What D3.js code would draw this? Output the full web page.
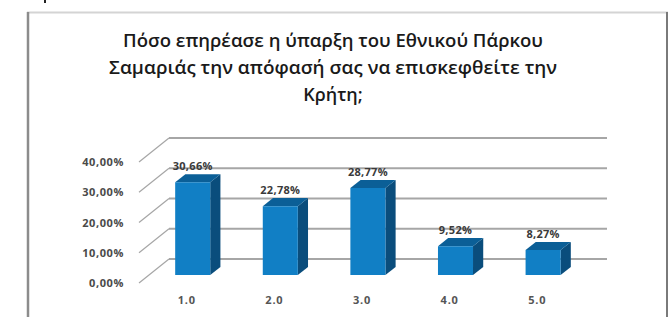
<!DOCTYPE html>
<html><head><meta charset="utf-8">
<script src="https://cdn.jsdelivr.net/npm/d3@7"></script>
<style>
html,body{margin:0;padding:0;background:#fff;}
svg{display:block;}
</style>
</head><body>
<svg id="chart" width="671" height="317"></svg>
<script>
const titleLines = ["Πόσο επηρέασε η ύπαρξη του Εθνικού Πάρκου", "Σαμαριάς την απόφασή σας να επισκεφθείτε την", "Κρήτη;"];
const categories = ["1.0", "2.0", "3.0", "4.0", "5.0"];
const values = [0.3066, 0.2278, 0.2877, 0.0952, 0.0827];
const valueLabels = ["30,66%", "22,78%", "28,77%", "9,52%", "8,27%"];
const yTicks = [0, 0.1, 0.2, 0.3, 0.4];
const yTickLabels = ["0,00%", "10,00%", "20,00%", "30,00%", "40,00%"];

const svg = d3.select("#chart");
const W = 671, H = 317;

// frame
svg.append("rect").attr("x", 0).attr("y", 0).attr("width", W).attr("height", H).attr("fill", "#fff");
svg.append("line").attr("x1", 27).attr("x2", 668).attr("y1", 12.5).attr("y2", 12.5).attr("stroke", "#d4d4d4").attr("stroke-width", 2);
svg.append("line").attr("x1", 28).attr("x2", 28).attr("y1", 12).attr("y2", H).attr("stroke", "#8c8c8c").attr("stroke-width", 2.5);
svg.append("line").attr("x1", 667).attr("x2", 667).attr("y1", 12).attr("y2", H).attr("stroke", "#7a7a7a").attr("stroke-width", 2);
svg.append("rect").attr("x", 44).attr("y", 0).attr("width", 2).attr("height", 3).attr("fill", "#222");

// title
const title = svg.append("g");
const titleY = [47, 74, 101];
const titleW = [420, 448, null];
titleLines.forEach((t, i) => {
  const tx = title.append("text")
    .attr("x", 333).attr("y", titleY[i])
    .attr("text-anchor", "middle")
    .attr("font-family", "'Open Sans', sans-serif")
    .attr("font-weight", 600)
    .attr("font-size", 18)
    .attr("fill", "#1a1a1a")
    .text(t);
  if (titleW[i]) tx.attr("textLength", titleW[i]).attr("lengthAdjust", "spacingAndGlyphs");
});

// scales (front plane)
const x = d3.scaleBand().domain(categories).range([139, 577]).paddingInner(0.6).paddingOuter(0.3);
const y = d3.scaleLinear().domain([0, 0.4]).range([283, 162]);
const depth = {dx: 30, dy: -24};
const z0 = 0.33, z1 = 0.67;
const px = (xv, z) => xv + depth.dx * z;
const py = (yv, z) => yv + depth.dy * z;

// gridlines: back wall + left diagonals
const grid = svg.append("g");
yTicks.forEach(t => {
  grid.append("line")
    .attr("x1", px(x.range()[0], 1)).attr("x2", px(x.range()[1], 1))
    .attr("y1", py(y(t), 1)).attr("y2", py(y(t), 1))
    .attr("stroke", "#a6a6a6").attr("stroke-width", 2);
  grid.append("line")
    .attr("x1", px(x.range()[0], 0)).attr("x2", px(x.range()[0], 1))
    .attr("y1", py(y(t), 0)).attr("y2", py(y(t), 1))
    .attr("stroke", "#a6a6a6").attr("stroke-width", 1.2);
});

// y axis labels
const yAxis = d3.axisLeft(y).tickValues(yTicks).tickSize(0).tickPadding(0)
  .tickFormat((d, i) => yTickLabels[i]);
const yg = svg.append("g").attr("transform", "translate(124,0)").call(yAxis);
yg.select(".domain").remove();
yg.selectAll("text")
  .attr("font-family", "'Open Sans', sans-serif")
  .attr("font-weight", 700)
  .attr("font-size", 11)
  .attr("letter-spacing", 0.6)
  .attr("fill", "#4a4a4a");

// x axis labels
const xAxis = d3.axisBottom(x).tickSize(0).tickPadding(0);
const xg = svg.append("g").attr("transform", "translate(4,296)").call(xAxis);
xg.select(".domain").remove();
xg.selectAll("text")
  .attr("font-family", "'Open Sans', sans-serif")
  .attr("font-weight", 700)
  .attr("font-size", 11)
  .attr("letter-spacing", 0.8)
  .attr("fill", "#555");

// bars
const bars = svg.append("g");
categories.forEach((c, i) => {
  const xl = x(c), xr = x(c) + x.bandwidth();
  const yt = y(values[i]), yb = y(0);
  const f = (xv, yv, z) => [px(xv, z), py(yv, z)];
  bars.append("path")
    .attr("d", d3.line()([f(xr, yb, z0), f(xr, yt, z0), f(xr, yt, z1), f(xr, yb, z1)]) + "Z")
    .attr("fill", "#0a4d7c");
  bars.append("path")
    .attr("d", d3.line()([f(xl, yt, z0), f(xr, yt, z0), f(xr, yt, z1), f(xl, yt, z1)]) + "Z")
    .attr("fill", "#0b5f97");
  bars.append("path")
    .attr("d", d3.line()([f(xl, yb, z0), f(xr, yb, z0), f(xr, yt, z0), f(xl, yt, z0)]) + "Z")
    .attr("fill", "#117fc5");
  bars.append("text")
    .attr("x", px((xl + xr) / 2, z0))
    .attr("y", py(yt, z1) - 4)
    .attr("text-anchor", "middle")
    .attr("font-family", "'Open Sans', sans-serif")
    .attr("font-weight", 700)
    .attr("font-size", 11)
    .attr("letter-spacing", 0.3)
    .attr("fill", "#3a3a3a")
    .text(valueLabels[i]);
});
</script>
</body></html>
